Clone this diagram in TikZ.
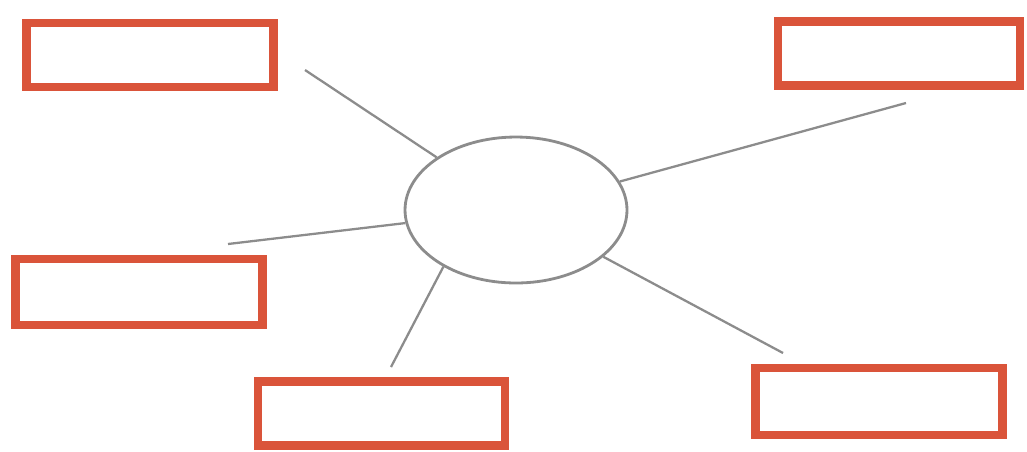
\documentclass[tikz,border=0pt]{standalone}
\usepackage{tikz}
\usetikzlibrary{shapes.geometric}
\definecolor{boxcolor}{RGB}{218,84,58}
\definecolor{spokecolor}{RGB}{140,140,140}

\begin{document}
\begin{tikzpicture}[x=0.02cm, y=-0.02cm,
  box/.style={draw=boxcolor, line width=5pt, minimum width=4.94cm, minimum height=1.28cm, inner sep=0pt},
  spoke/.style={draw=spokecolor, line width=1.3pt}]
\useasboundingbox (0,0) rectangle (1027,451);

% Central ellipse
\node[ellipse, draw=spokecolor, line width=1.6pt, minimum width=4.44cm, minimum height=2.92cm] (hub) at (516,210) {};

% Empty boxes
\node[box] (b1) at (150,55) {};
\node[box, minimum width=4.84cm] (b2) at (899,53.5) {};
\node[box, minimum height=1.32cm] (b3) at (139,292) {};
\node[box] (b4) at (381.5,413.5) {};
\node[box, minimum height=1.34cm] (b5) at (879,401.5) {};

% Free ends of the spokes
\coordinate (e1) at (305,70);
\coordinate (e2) at (906,103);
\coordinate (e3) at (228,244);
\coordinate (e4) at (391,367);
\coordinate (e5) at (783,353);

% Spokes
\draw[spoke] (hub) -- (e1);
\draw[spoke] (hub) -- (e2);
\draw[spoke] (hub) -- (e3);
\draw[spoke] (hub.218) -- (e4);
\draw[spoke] (hub) -- (e5);
\end{tikzpicture}
\end{document}
